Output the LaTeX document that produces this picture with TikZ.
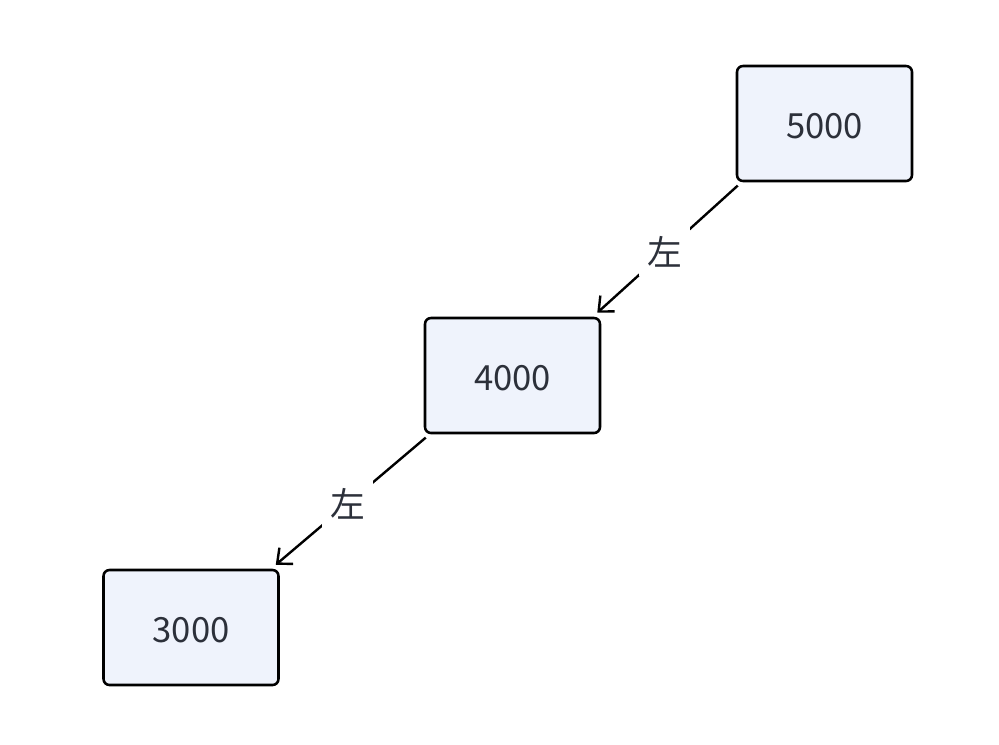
\documentclass[tikz,border=0pt]{standalone}
\usepackage{fontspec}
\setmainfont{Noto Sans CJK SC}
\usetikzlibrary{arrows.meta}
\definecolor{boxfill}{RGB}{239,243,252}
\definecolor{txt}{RGB}{44,48,58}
\newcommand{\boxtext}[1]{\raisebox{-11.6pt}[0pt][0pt]{#1}}
\tikzset{
  box/.style={draw=black, line width=1.9pt, fill=boxfill, rounded corners=4.5pt,
    minimum width=131.25pt, minimum height=86.25pt, inner sep=0pt,
    font=\fontsize{26pt}{30pt}\selectfont, text=txt},
  edge/.style={draw=black, line width=1.8pt, -{Straight Barb[length=9pt,width=16pt,line width=1.8pt]}},
  elabel/.style={fill=white, inner xsep=6pt, inner ysep=7pt, font=\fontsize{26pt}{30pt}\selectfont, text=txt}
}
\begin{document}
\begin{tikzpicture}[x=0.75pt,y=-0.75pt]
\useasboundingbox (0,0) rectangle (999,744);
\node[box] (n5) at (824.5,123.5) {\boxtext{5000}};
\node[box] (n4) at (512.5,375.5) {\boxtext{4000}};
\node[box] (n3) at (191,627.5) {\boxtext{3000}};
\draw[edge] ([shift={(1.5pt,-2.5pt)}]n5.south west) -- node[elabel, pos=0.52] {左} ([shift={(-3pt,3pt)}]n4.north east);
\draw[edge] ([shift={(1.5pt,-2.5pt)}]n4.south west) -- node[elabel, pos=0.52] {左} ([shift={(-3pt,3pt)}]n3.north east);
\end{tikzpicture}
\end{document}
